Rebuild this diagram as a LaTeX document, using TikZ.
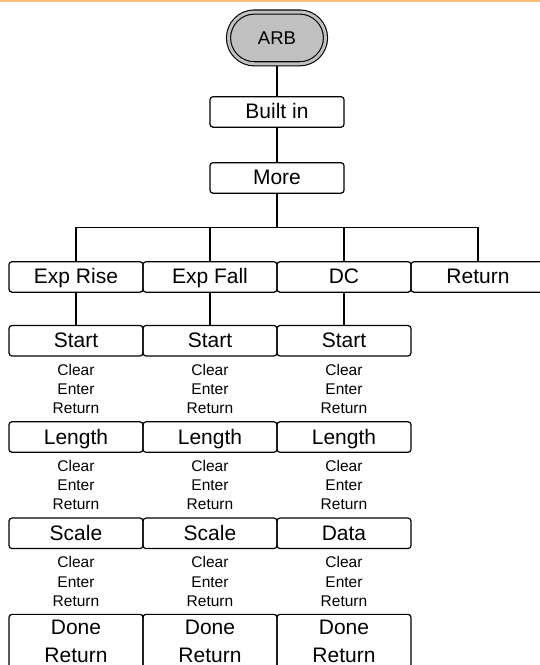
\documentclass[tikz,border=0pt]{standalone}
\usepackage{fontspec}
\setmainfont{Liberation Sans}
\usetikzlibrary{positioning}
\definecolor{cArb}{HTML}{C0C0C0}
\definecolor{cRule}{HTML}{F9BE7C}
\tikzset{
  menubox/.style ={draw, rounded corners=3pt, minimum width=134pt, minimum height=30.5pt,
                   inner sep=0pt, outer sep=0pt, line width=1.2pt,
                   font=\fontsize{21}{25}\selectfont, text height=15pt, text depth=1pt},
  donebox/.style ={draw, rounded corners=3pt, minimum width=134pt, minimum height=54.6pt,
                   inner sep=0pt, outer sep=0pt, line width=1.2pt, align=center,
                   font=\fontsize{21}{28.3}\selectfont},
  keylist/.style ={inner sep=0pt, outer sep=0pt, align=center,
                   font=\fontsize{15.5}{19.2}\selectfont},
  arbnode/.style ={draw, fill=cArb, double=cArb, double distance=3pt, line width=1.1pt,
                   rounded corners=25.9pt, minimum width=97pt, minimum height=51.8pt,
                   outer sep=2.6pt, font=\fontsize{18.5}{22}\selectfont},
  link/.style    ={line width=1.2pt, draw=black},
  toprule/.style ={line width=2.2pt, draw=cRule}
}

\begin{document}
\begin{tikzpicture}[x=1pt, y=-1pt]

  \clip (0,0) rectangle (540,665);
  \draw[toprule] (0,1.1) -- (540,1.1);

  % ====================== Top column ======================
  \node[arbnode] (arb) at (277,37.9) {ARB};
  \node[menubox, below=30.3pt of arb]     (builtin) {Built in};
  \node[menubox, below=35.5pt of builtin] (more)    {More};
  \coordinate[below=34.1pt of more] (bus);

  \draw[link] (arb)     -- (builtin);
  \draw[link] (builtin) -- (more);
  \draw[link] (more)    -- (bus);

  % ====================== Waveform row ======================
  \node[menubox, below left=68.5pt and 0pt of more.south]  (expfall) {Exp Fall};
  \node[menubox, left=0pt of expfall]                      (exprise) {Exp Rise};
  \node[menubox, below right=68.5pt and 0pt of more.south] (dc)      {DC};
  \node[menubox, right=0pt of dc]                          (ret)     {Return};

  \draw[link] (exprise.north) |- (bus) -| (ret.north);
  \draw[link] (expfall.north) -- (expfall.north |- bus);
  \draw[link] (dc.north)      -- (dc.north |- bus);

  % ====================== Exp Rise column ======================
  \node[menubox, below=33.3pt of exprise] (startA)  {Start};
  \node[keylist, below=8pt of startA]     (keysA1)  {Clear\\Enter\\Return};
  \node[menubox, below=8pt of keysA1]     (lengthA) {Length};
  \node[keylist, below=8pt of lengthA]    (keysA2)  {Clear\\Enter\\Return};
  \node[menubox, below=8pt of keysA2]     (scaleA)  {Scale};
  \node[keylist, below=8pt of scaleA]     (keysA3)  {Clear\\Enter\\Return};
  \node[donebox, below=8pt of keysA3]     (doneA)   {Done\\Return};

  \draw[link] (exprise) -- (startA);

  % ====================== Exp Fall column ======================
  \node[menubox, below=33.3pt of expfall] (startB)  {Start};
  \node[keylist, below=8pt of startB]     (keysB1)  {Clear\\Enter\\Return};
  \node[menubox, below=8pt of keysB1]     (lengthB) {Length};
  \node[keylist, below=8pt of lengthB]    (keysB2)  {Clear\\Enter\\Return};
  \node[menubox, below=8pt of keysB2]     (scaleB)  {Scale};
  \node[keylist, below=8pt of scaleB]     (keysB3)  {Clear\\Enter\\Return};
  \node[donebox, below=8pt of keysB3]     (doneB)   {Done\\Return};

  \draw[link] (expfall) -- (startB);

  % ====================== DC column ======================
  \node[menubox, below=33.3pt of dc]      (startC)  {Start};
  \node[keylist, below=8pt of startC]     (keysC1)  {Clear\\Enter\\Return};
  \node[menubox, below=8pt of keysC1]     (lengthC) {Length};
  \node[keylist, below=8pt of lengthC]    (keysC2)  {Clear\\Enter\\Return};
  \node[menubox, below=8pt of keysC2]     (dataC)   {Data};
  \node[keylist, below=8pt of dataC]      (keysC3)  {Clear\\Enter\\Return};
  \node[donebox, below=8pt of keysC3]     (doneC)   {Done\\Return};

  \draw[link] (dc) -- (startC);

\end{tikzpicture}
\end{document}
